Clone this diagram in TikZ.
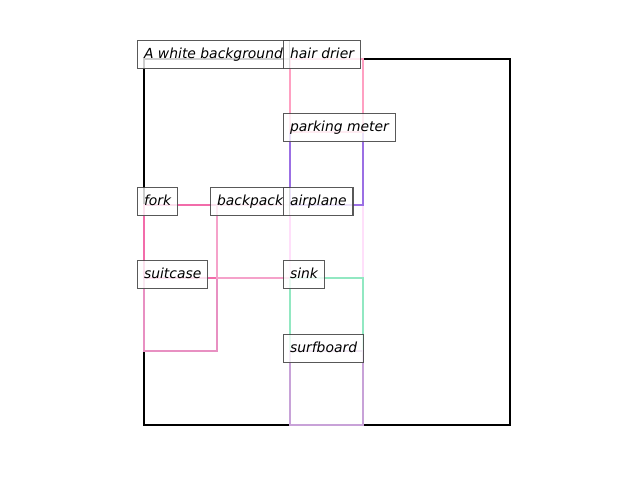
\documentclass[tikz,border=0pt]{standalone}
\usepackage{fontspec}
\setmainfont{DejaVu Sans}
\begin{document}
\begin{tikzpicture}[x=0.72pt,y=-0.72pt,
  bbox/.style={line width=2pt},
  lbl/.style={draw=black!72, fill=white, fill opacity=0.8, draw opacity=0.9, text opacity=1,
    line width=1pt, anchor=north west, inner xsep=4.6pt, inner ysep=0pt,
    minimum height=20.16pt, text height=7.6pt, text depth=2.4pt,
    font=\itshape\fontsize{10pt}{12pt}\selectfont}]
\useasboundingbox (0,0) rectangle (640,480);
\definecolor{cHair}{HTML}{FFA0C2}
\definecolor{cPark}{HTML}{9B6FE4}
\definecolor{cFork}{HTML}{F26CAA}
\definecolor{cBack}{HTML}{F5A2CA}
\definecolor{cAir}{HTML}{FFDFFA}
\definecolor{cSuit}{HTML}{E890C2}
\definecolor{cSink}{HTML}{92E8C2}
\definecolor{cSurf}{HTML}{C8A2D8}
% boxes
\draw[bbox, black] (144,59) rectangle (510,425);
\draw[bbox, cSuit] (144,278) rectangle (217,351);
\draw[bbox, cFork] (144,205) rectangle (217,278);
\draw[bbox, cBack] (217,205) rectangle (290,278);
\draw[bbox, cAir] (290,205) rectangle (363,278);
\draw[bbox, cPark] (290,132) rectangle (363,205);
\draw[bbox, cHair] (290,59) rectangle (363,132);
\draw[bbox, cSink] (290,278) rectangle (363,351);
\draw[bbox, cSurf] (290,351) rectangle (363,425);
% labels
\node[lbl] (lbg) at (137,40) {A white background};
\node[lbl] (lhair) at (283,40) {hair drier};
\node[lbl] (lpark) at (283,113) {parking meter};
\node[lbl] (lfork) at (137,187) {fork};
\node[lbl] (lback) at (210,187) {backpack};
\node[lbl] (lair) at (283,187) {airplane};
\node[lbl] (lsuit) at (137,260) {suitcase};
\node[lbl] (lsink) at (283,260) {sink};
\node[lbl] (lsurf) at (283,334) {surfboard};
\end{tikzpicture}
\end{document}
